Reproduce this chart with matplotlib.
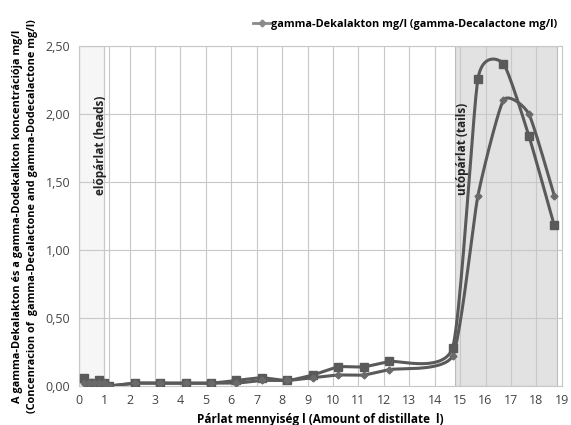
import numpy as np
import matplotlib.pyplot as plt
from matplotlib.ticker import FuncFormatter

plt.rcParams['font.family'] = ['Open Sans', 'DejaVu Sans']

# distillate amount (l)
x = [0.2, 0.4, 0.6, 0.8, 1.0, 1.2, 2.2, 3.2, 4.2, 5.2, 6.2, 7.2, 8.2, 9.2,
     10.2, 11.2, 12.2, 14.7, 15.7, 16.7, 17.7, 18.7]
# gamma-Dekalakton mg/l
deka = [0.02, 0.02, 0.02, 0.02, 0.02, 0.00, 0.02, 0.02, 0.02, 0.02, 0.02, 0.04,
        0.04, 0.06, 0.08, 0.08, 0.12, 0.22, 1.40, 2.10, 2.00, 1.40]
# gamma-Dodekalakton mg/l
dodeka = [0.06, 0.02, 0.02, 0.04, 0.02, 0.00, 0.02, 0.02, 0.02, 0.02, 0.04, 0.06,
          0.04, 0.08, 0.14, 0.14, 0.18, 0.28, 2.26, 2.37, 1.84, 1.18]

heads = (0.0, 1.0)
tails = (14.8, 18.8)


def smooth(xs, ys, tension=0.55, n=24):
    # bezier smoothing between points (like Excel "smoothed line")
    xs = np.asarray(xs, float)
    ys = np.asarray(ys, float)
    px = np.concatenate([[xs[0]], xs, [xs[-1]]])
    py = np.concatenate([[ys[0]], ys, [ys[-1]]])
    t = np.linspace(0, 1, n)[:, None]
    out = []
    for i in range(1, len(px) - 2):
        p0 = np.array([px[i - 1], py[i - 1]])
        p1 = np.array([px[i], py[i]])
        p2 = np.array([px[i + 1], py[i + 1]])
        p3 = np.array([px[i + 2], py[i + 2]])
        c1 = p1 + tension * (p2 - p0) / 6
        c2 = p2 - tension * (p3 - p1) / 6
        seg = ((1 - t) ** 3 * p1 + 3 * (1 - t) ** 2 * t * c1
               + 3 * (1 - t) * t ** 2 * c2 + t ** 3 * p2)
        out.append(seg)
    out = np.vstack(out)
    return out[:, 0], out[:, 1]


fig = plt.figure(figsize=(5.71, 4.25), dpi=100)
ax = fig.add_axes([0.138, 0.092, 0.846, 0.8])

ax.axvspan(*heads, facecolor='#f6f6f6', edgecolor='#c8c8c8', lw=0.8, zorder=0)
ax.axvline(1.2, color='#c8c8c8', lw=0.8, zorder=0)
ax.axvspan(*tails, facecolor='#e2e2e2', edgecolor='#bdbdbd', lw=0.8, zorder=0)

line_col = '#5a5a5a'
sx, sy = smooth(x, dodeka)
ax.plot(sx, sy, color=line_col, lw=2.2, zorder=3)
ax.plot(x, dodeka, ls='none', marker='s', ms=5.5, color=line_col, zorder=4)

sx, sy = smooth(x, deka)
ax.plot(sx, sy, color=line_col, lw=2.2, zorder=3)
ax.plot(x, deka, ls='none', marker='D', ms=3.5, color='#6a6a6a', zorder=4)

# legend entry (only Dekalakton shown)
ax.plot([], [], color='#8a8a8a', lw=2, marker='D', ms=3.5,
        label='gamma-Dekalakton mg/l (gamma-Decalactone mg/l)')
ax.legend(loc='lower right', bbox_to_anchor=(1.0, 1.035), frameon=False,
          handlelength=1.6, handletextpad=0.1, borderaxespad=0,
          prop={'weight': 'bold', 'size': 7.8})

ax.text(0.87, 1.77, 'előpárlat (heads)', rotation=90, ha='center', va='center',
        fontsize=8.5, fontweight='bold', color='#222222', zorder=5)
ax.text(15.1, 1.74, 'utópárlat (tails)', rotation=90, ha='center', va='center',
        fontsize=8.5, fontweight='bold', color='#222222', zorder=5)

ax.set_xlim(0, 19)
ax.set_ylim(0, 2.5)
ax.set_xticks(range(0, 20))
ax.set_yticks(np.arange(0, 2.51, 0.5))
ax.yaxis.set_major_formatter(FuncFormatter(lambda v, p: f'{v:.2f}'.replace('.', ',')))
ax.grid(True, color='#c8c8c8', lw=0.8, zorder=1)
ax.set_axisbelow(True)
for s in ax.spines.values():
    s.set_color('#c8c8c8')
ax.tick_params(length=0, labelsize=9, colors='#444444', pad=6)

ax.set_xlabel('Párlat mennyiség l (Amount of distillate  l)', fontsize=8.5,
              fontweight='bold', labelpad=4)
ax.set_ylabel('A gamma-Dekalakton és a gamma-Dodekalkton koncentrációja mg/l\n'
              '(Concenracion of  gamma-Decalactone and gamma-Dodecalactone mg/l)',
              fontsize=7.8, fontweight='bold', linespacing=1.5)
ax.yaxis.set_label_coords(-0.085, 0.5)

fig.savefig('out.png', dpi=100)
